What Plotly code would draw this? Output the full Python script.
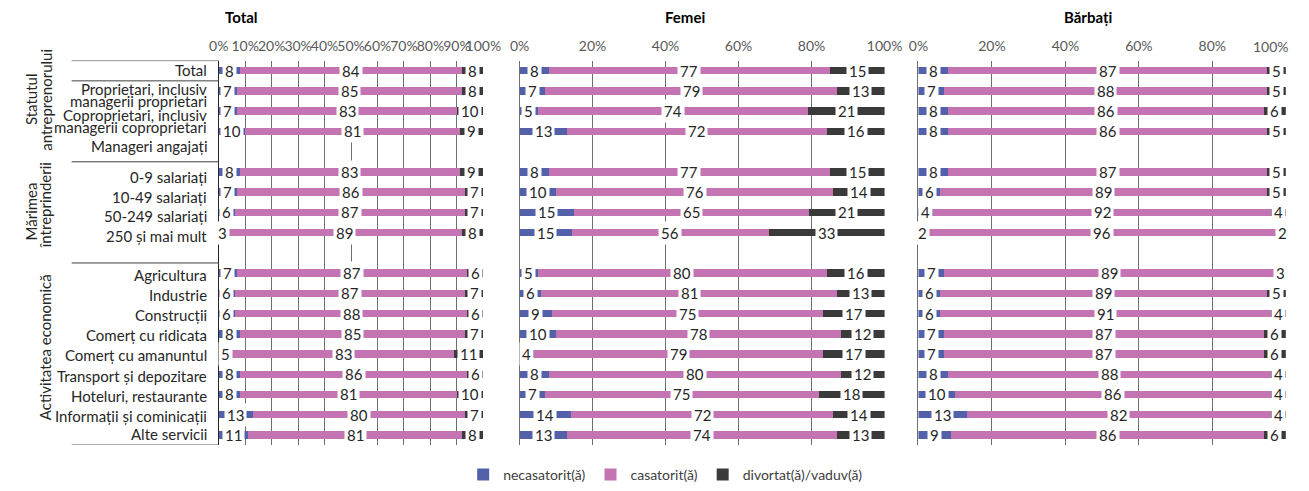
import plotly.graph_objects as go

# ---------------- data ----------------
categories = [
    "Total",
    "Proprietari, inclusiv managerii proprietari",
    "Coproprietari, inclusiv managerii coproprietari",
    "Manageri angajați",
    "",
    "0-9 salariați", "10-49 salariați", "50-249 salariați", "250 și mai mult",
    "",
    "Agricultura", "Industrie", "Construcții", "Comerț cu ridicata",
    "Comerț cu amanuntul", "Transport și depozitare", "Hoteluri, restaurante",
    "Informații și cominicații", "Alte servicii",
]

series_names = ["necasatorit(ă)", "casatorit(ă)", "divortat(ă)/vaduv(ă)"]
panel_titles = ["Total", "Femei", "Bărbați"]

total_necas = [8, 7, 7, 10, None, 8, 7, 6, 3, None, 7, 6, 6, 8, 5, 8, 8, 13, 11]
total_cas = [84, 85, 83, 81, None, 83, 86, 87, 89, None, 87, 87, 88, 85, 83, 86, 81, 80, 81]
total_div = [8, 8, 10, 9, None, 9, 7, 7, 8, None, 6, 7, 6, 7, 11, 6, 10, 7, 8]

femei_necas = [8, 7, 5, 13, None, 8, 10, 15, 15, None, 5, 6, 9, 10, 4, 8, 7, 14, 13]
femei_cas = [77, 79, 74, 72, None, 77, 76, 65, 56, None, 80, 81, 75, 78, 79, 80, 75, 72, 74]
femei_div = [15, 13, 21, 16, None, 15, 14, 21, 33, None, 16, 13, 17, 12, 17, 12, 18, 14, 13]

barbati_necas = [8, 7, 8, 8, None, 8, 6, 4, 2, None, 7, 6, 6, 7, 7, 8, 10, 13, 9]
barbati_cas = [87, 88, 86, 86, None, 87, 89, 92, 96, None, 89, 89, 91, 87, 87, 88, 86, 82, 86]
barbati_div = [5, 5, 6, 5, None, 5, 5, 4, 2, None, 3, 5, 4, 6, 6, 4, 4, 4, 6]

tick_values = [
    [0, 10, 20, 30, 40, 50, 60, 70, 80, 90, 100],
    [0, 20, 40, 60, 80, 100],
    [0, 20, 40, 60, 80, 100],
]

# ---------------- style ----------------
W, H = 1309, 491
FONT = "Lato, 'Open Sans', sans-serif"
colors = ["#5360AA", "#C574B3", "#3A3A3A"]
grid_col = "#6E6E6E"
text_col = "#262626"
tick_col = "#595959"


def px(xp):
    return xp / W


def py(yp):
    return 1 - yp / H


plot_top_px, plot_bot_px = 61.5, 451.5
panel_px = [(213.3, 483.7), (520.7, 893.7), (928.3, 1303.7)]

panels = [
    (total_necas, total_cas, total_div),
    (femei_necas, femei_cas, femei_div),
    (barbati_necas, barbati_cas, barbati_div),
]

rows = list(range(len(categories)))

fig = go.Figure()
annotations = []

for p, series in enumerate(panels):
    xa = "x" if p == 0 else f"x{p + 1}"
    ya = "y" if p == 0 else f"y{p + 1}"
    for s, vals in enumerate(series):
        fig.add_trace(go.Bar(
            x=vals, y=rows, orientation="h", width=0.37,
            name=series_names[s], marker=dict(color=colors[s], line=dict(width=0)),
            xaxis=xa, yaxis=ya, showlegend=(p == 0), legendgroup=series_names[s],
            hoverinfo="skip",
        ))
    for i in rows:
        vals = [series[s][i] for s in range(3)]
        if any(v is None for v in vals):
            continue
        tot = float(sum(vals))
        cum = 0.0
        for v in vals:
            centre = (cum + v / 2.0) / tot * 100.0
            cum += v
            annotations.append(dict(
                x=centre, y=i, xref=xa, yref=ya, text=str(v), showarrow=False,
                font=dict(family=FONT, size=15, color=text_col),
                bgcolor="white", borderpad=2, xanchor="center", yanchor="middle",
            ))

y_dom = [py(plot_bot_px), py(plot_top_px)]
layout_axes = {}
for p in range(3):
    xk = "xaxis" if p == 0 else f"xaxis{p + 1}"
    yk = "yaxis" if p == 0 else f"yaxis{p + 1}"
    ya = "y" if p == 0 else f"y{p + 1}"
    xa = "x" if p == 0 else f"x{p + 1}"
    tv = tick_values[p]
    tt = [f"{v}%" for v in tv]
    if p == 2:
        # last label is pulled inside the page edge (drawn as annotation below)
        tt[-1] = ""
    layout_axes[xk] = dict(
        domain=[px(panel_px[p][0]), px(panel_px[p][1])], range=[0, 100],
        side="top", tickmode="array", tickvals=tv, ticktext=tt, tickangle=0,
        showgrid=True, gridcolor=grid_col, gridwidth=1, zeroline=False,
        showline=False, ticks="", ticklabelstandoff=6,
        tickfont=dict(family=FONT, size=14, color=tick_col),
        anchor=ya, fixedrange=True,
    )
    layout_axes[yk] = dict(
        domain=y_dom, range=[len(categories) - 0.5, -0.5],
        showticklabels=False, showgrid=False, zeroline=False,
        showline=True, linecolor="#262626" if p == 0 else grid_col, linewidth=1,
        anchor=xa, fixedrange=True,
    )

annotations.append(dict(
    x=1.0, y=py(47.5), xref="paper", yref="paper",
    text=f"{tick_values[2][-1]}%", showarrow=False, xanchor="right", yanchor="middle",
    font=dict(family=FONT, size=14, color=tick_col),
))

label_lines = [
    ("Total", 71.5), ("Proprietari, inclusiv", 90.5), ("managerii proprietari", 102),
    ("Coproprietari, inclusiv", 117), ("managerii coproprietari", 128.5),
    ("Manageri angajați", 148),
    ("0-9 salariați", 180), ("10-49 salariați", 200), ("50-249 salariați", 219.5),
    ("250 și mai mult", 239.5),
    ("Agricultura", 279), ("Industrie", 299), ("Construcții", 319.5),
    ("Comerț cu ridicata", 340), ("Comerț cu amanuntul", 360.5),
    ("Transport și depozitare", 381), ("Hoteluri, restaurante", 401.5),
    ("Informații și cominicații", 422), ("Alte servicii", 440.5),
]
for txt, ypx in label_lines:
    annotations.append(dict(
        x=px(203), y=py(ypx), xref="paper", yref="paper", text=txt,
        showarrow=False, xanchor="right", yanchor="middle",
        font=dict(family=FONT, size=15, color=text_col),
    ))

group_lines = [
    ("Statutul", 21, 101), ("antreprenorului", 36, 101),
    ("Mărimea", 21, 215), ("întreprinderii", 36, 208),
    ("Activitatea economică", 36, 352),
]
for txt, xpx, ypx in group_lines:
    annotations.append(dict(
        x=px(xpx), y=py(ypx), xref="paper", yref="paper", text=txt,
        showarrow=False, textangle=-90, xanchor="center", yanchor="middle",
        font=dict(family=FONT, size=15, color=text_col),
    ))

title_pos = [(237, 17), (689.5, 17), (1102, 17)]
for t, (xpx, ypx) in zip(panel_titles, title_pos):
    annotations.append(dict(
        x=px(xpx), y=py(ypx), xref="paper", yref="paper", text=f"<b>{t}</b>",
        showarrow=False, xanchor="center", yanchor="middle",
        font=dict(family=FONT, size=15, color="#000000"),
    ))

shapes = []
for b in [-0.5, 0.5, 4.5, 9.5, len(categories) - 0.5]:
    shapes.append(dict(
        type="line", xref="paper", yref="y", x0=px(63), x1=px(213.3), y0=b, y1=b,
        line=dict(color="#404040", width=1),
    ))

fig.update_layout(
    width=W, height=H,
    margin=dict(l=0, r=0, t=0, b=0),
    paper_bgcolor="white", plot_bgcolor="white",
    barmode="stack", barnorm="percent",
    annotations=annotations, shapes=shapes,
    showlegend=True,
    legend=dict(
        orientation="h", x=px(670), y=py(482), xanchor="center", yanchor="middle",
        font=dict(family=FONT, size=14, color="#404040"), traceorder="normal",
        itemwidth=30, bgcolor="rgba(0,0,0,0)",
    ),
    **layout_axes,
)

page_css = (
    "document.documentElement.style.margin='0';"
    "document.documentElement.style.padding='0';"
    "document.documentElement.style.overflow='hidden';"
    "document.body.style.margin='0';"
    "document.body.style.padding='0';"
    "document.body.style.overflow='hidden';"
)

fig.write_html("out.html", post_script=page_css,
               config={"displayModeBar": False, "staticPlot": True})
